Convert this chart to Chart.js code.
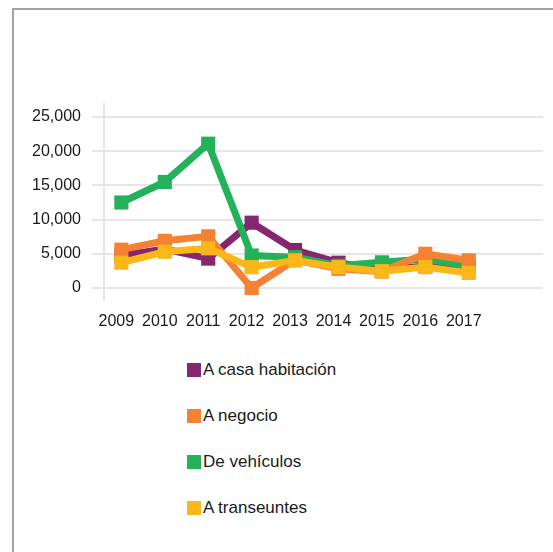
<!DOCTYPE html>
<html>
<head>
<meta charset="utf-8">
<script src="https://cdn.jsdelivr.net/npm/chart.js@4"></script>
<style>
    body { margin: 0; background: #fff; font-family: "Liberation Sans", Arial, sans-serif; }
    #frame {
        position: absolute; left: 12px; top: 8px; width: 545px; height: 548px;
        border-top: 2px solid #a3a3a3; border-left: 2px solid #a3a3a3;
    }
    #wrap { position: absolute; left: 0; top: 0; width: 553px; height: 345px; }
    #legend { position: absolute; left: 187px; top: 363px; }
    .item { display: flex; align-items: center; height: 14px; margin-bottom: 32px; }
    .swatch { width: 14px; height: 14px; margin-right: 2px; }
    .item span { font-size: 17px; line-height: 14px; color: #1a1a1a; white-space: nowrap; }
</style>
</head>
<body>
<div id="frame"></div>
<div id="wrap"><canvas id="chart"></canvas></div>
<div id="legend"></div>
<script>
const years = [2009, 2010, 2011, 2012, 2013, 2014, 2015, 2016, 2017];
const casaHabitacion = [4750, 5700, 4300, 9550, 5550, 3700, 2600, 3200, 3000];
const negocio = [5600, 6900, 7550, 0, 4100, 2800, 2400, 5000, 4050];
const vehiculos = [12500, 15500, 21100, 4750, 4500, 3250, 3750, 4250, 3200];
const transeuntes = [3700, 5300, 5800, 3050, 4000, 3050, 2450, 3050, 2200];
const yTicks = [0, 5000, 10000, 15000, 20000, 25000];

const seriesNames = ['A casa habitación', 'A negocio', 'De vehículos', 'A transeuntes'];
const seriesColors = ['#85266f', '#f58232', '#23b25a', '#fbb619'];
const seriesValues = [casaHabitacion, negocio, vehiculos, transeuntes];
// stacking: lower number is drawn on top (yellow, orange, green, purple)
const drawOrder = [4, 2, 3, 1];

// vertical axis line that runs past the plot a little, like the original
const axisLine = {
    id: 'axisLine',
    beforeDatasetsDraw(chart) {
        const { ctx, chartArea } = chart;
        ctx.save();
        ctx.strokeStyle = '#e6e6e6';
        ctx.lineWidth = 2;
        ctx.beginPath();
        ctx.moveTo(chartArea.left, chartArea.top - 14);
        ctx.lineTo(chartArea.left, chartArea.bottom + 13);
        ctx.stroke();
        ctx.restore();
    }
};

const datasets = seriesValues.map((vals, i) => ({
    label: seriesNames[i],
    data: years.map((yr, j) => ({ x: yr, y: vals[j] })),
    borderColor: seriesColors[i],
    backgroundColor: seriesColors[i],
    borderWidth: 7,
    pointStyle: 'rect',
    pointRadius: 10,
    pointBorderWidth: 0,
    tension: 0,
    clip: false,
    order: drawOrder[i]
}));

Chart.defaults.font.family = '"Liberation Sans", Arial, sans-serif';
Chart.defaults.color = '#1a1a1a';

new Chart(document.getElementById('chart'), {
    type: 'line',
    data: { datasets },
    plugins: [axisLine],
    options: {
        responsive: true,
        maintainAspectRatio: false,
        animation: false,
        events: [],
        layout: { padding: { top: 117, left: 0, right: 0, bottom: 0 } },
        plugins: { legend: { display: false }, tooltip: { enabled: false } },
        scales: {
            x: {
                type: 'linear',
                min: 2008.6,
                max: 2018.71,
                afterBuildTicks: (scale) => { scale.ticks = years.map(v => ({ value: v })); },
                afterFit: (scale) => { scale.height = 57; },
                grid: { display: false },
                border: { display: false },
                ticks: {
                    font: { size: 16 },
                    padding: 16,
                    labelOffset: -5,
                    autoSkip: false,
                    maxRotation: 0,
                    callback: (v) => String(v)
                }
            },
            y: {
                min: 0,
                max: 25000,
                afterBuildTicks: (scale) => { scale.ticks = yTicks.map(v => ({ value: v })); },
                afterFit: (scale) => { scale.width = 104; },
                grid: { color: '#e6e6e6', lineWidth: 2, tickLength: 12 },
                border: { display: false },
                ticks: {
                    font: { size: 16 },
                    padding: 11,
                    callback: (v) => v.toLocaleString('en-US')
                }
            }
        }
    }
});

const legend = document.getElementById('legend');
seriesNames.forEach((name, i) => {
    const item = document.createElement('div');
    item.className = 'item';
    const sw = document.createElement('div');
    sw.className = 'swatch';
    sw.style.background = seriesColors[i];
    const txt = document.createElement('span');
    txt.textContent = name;
    item.appendChild(sw);
    item.appendChild(txt);
    legend.appendChild(item);
});
</script>
</body>
</html>
